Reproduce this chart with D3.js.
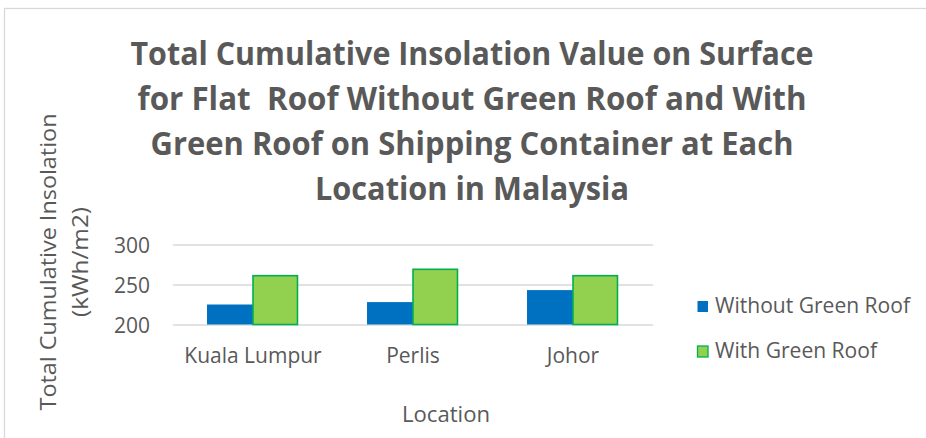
<!DOCTYPE html>
<html>
<head>
<meta charset="utf-8">
<script src="https://cdn.jsdelivr.net/npm/d3@7"></script>
<style>
  body { margin: 0; background: #fff; }
  text { font-family: "Open Sans", "Noto Sans", sans-serif; fill: #595959; }
  .titulo { white-space: pre; }
  .axis path { display: none; }
  .axis line { stroke: #d9d9d9; stroke-width: 1.3; }
</style>
</head>
<body>
<div id="chart"></div>
<script>
// datos
var locations = ["Kuala Lumpur", "Perlis", "Johor"];
var seriesNames = ["Without Green Roof", "With Green Roof"];
var withoutGreen = [225, 228, 243];
var withGreen = [261, 269, 261];
var yTicks = [200, 250, 300];
var titleLines = [
    "Total Cumulative Insolation Value on Surface",
    "for Flat  Roof Without Green Roof and With",
    "Green Roof on Shipping Container at Each",
    "Location in Malaysia"
];
var yTitleLines = ["Total Cumulative Insolation", "(kWh/m2)"];

var W = 926, H = 438;
var plot = { left: 173, right: 653, top: 244.5, bottom: 324.5 };

var svg = d3.select("#chart").append("svg")
    .attr("width", W)
    .attr("height", H);

// borde del grafico
svg.append("rect")
    .attr("x", 4.5).attr("y", 8.5)
    .attr("width", 960).attr("height", 460)
    .attr("fill", "#fff")
    .attr("stroke", "#d9d9d9")
    .attr("stroke-width", 1.3);

// ajusta el ancho del texto al de la referencia
function fit(sel, w) {
    sel.attr("textLength", w).attr("lengthAdjust", "spacingAndGlyphs");
}

var y = d3.scaleLinear().domain([200, 300]).range([plot.bottom, plot.top]);
var x0 = d3.scaleBand().domain(locations).range([plot.left, plot.right]).padding(0);
var x1 = d3.scaleBand().domain(seriesNames).range([0, x0.bandwidth()])
    .paddingInner(0).paddingOuter(0.74);
var color = d3.scaleOrdinal().domain(seriesNames).range(["#0070c0", "#92d050"]);

// grilla + etiquetas eje Y
var yAxis = svg.append("g")
    .attr("class", "axis")
    .attr("transform", "translate(" + plot.left + ",0)")
    .call(d3.axisLeft(y).tickValues(yTicks).tickSize(-(plot.right - plot.left)).tickPadding(23));
yAxis.selectAll("text")
    .style("font-size", "21px")
    .attr("fill", "#595959")
    .attr("dy", "0.36em");

// barras
var rows = locations.map(function (d, i) {
    return { loc: d, vals: [
        { name: seriesNames[0], v: withoutGreen[i] },
        { name: seriesNames[1], v: withGreen[i] }
    ] };
});

var groups = svg.selectAll(".grupo")
    .data(rows)
    .enter().append("g")
    .attr("class", "grupo")
    .attr("transform", function (d) { return "translate(" + x0(d.loc) + ",0)"; });

groups.selectAll("rect")
    .data(function (d) { return d.vals; })
    .enter().append("rect")
    .attr("x", function (d) { return x1(d.name); })
    .attr("y", function (d) { return y(d.v); })
    .attr("width", function (d, i) { return i == 1 ? x1.bandwidth() - 1.5 : x1.bandwidth(); })
    .attr("height", function (d) { return y(200) - y(d.v); })
    .attr("fill", function (d) { return color(d.name); })
    .attr("stroke", function (d, i) { return i == 1 ? "#00b050" : "none"; })
    .attr("stroke-width", 1.6);

// etiquetas de categorias
svg.selectAll(".catLabel")
    .data(locations)
    .enter().append("text")
    .attr("class", "catLabel")
    .attr("x", function (d) { return x0(d) + x0.bandwidth() / 2; })
    .attr("y", plot.bottom + 38.5)
    .attr("text-anchor", "middle")
    .style("font-size", "21px")
    .text(function (d) { return d; });

// titulo
var titleWidths = [683, 669, 643, 314];
svg.selectAll(".titulo")
    .data(titleLines)
    .enter().append("text")
    .attr("class", "titulo")
    .attr("x", 472)
    .attr("y", function (d, i) { return 65 + i * 45; })
    .attr("text-anchor", "middle")
    .style("font-size", "32px")
    .style("font-weight", "bold")
    .text(function (d) { return d; })
    .each(function (d, i) { fit(d3.select(this), titleWidths[i]); });

// titulo eje Y
var yTitleWidths = [297, 110];
svg.selectAll(".yTitle")
    .data(yTitleLines)
    .enter().append("text")
    .attr("class", "yTitle")
    .attr("transform", function (d, i) { return "translate(" + (56 + i * 32) + ",262) rotate(-90)"; })
    .attr("text-anchor", "middle")
    .style("font-size", "21px")
    .text(function (d) { return d; })
    .each(function (d, i) { fit(d3.select(this), yTitleWidths[i]); });

// titulo eje X
svg.append("text")
    .attr("x", 446)
    .attr("y", 422)
    .attr("text-anchor", "middle")
    .style("font-size", "21px")
    .text("Location")
    .call(fit, 88);

// leyenda
var legendWidths = [195, 162];
var legend = svg.selectAll(".leyenda")
    .data(seriesNames)
    .enter().append("g")
    .attr("class", "leyenda")
    .attr("transform", function (d, i) { return "translate(697," + (313 + i * 45) + ")"; });

legend.append("rect")
    .attr("x", 0.5)
    .attr("y", -12)
    .attr("width", 10.5)
    .attr("height", 11)
    .attr("fill", function (d) { return color(d); })
    .attr("stroke", function (d, i) { return i == 1 ? "#00b050" : "none"; })
    .attr("stroke-width", 1.3);

legend.append("text")
    .attr("x", 18)
    .attr("y", 0)
    .style("font-size", "21px")
    .text(function (d) { return d; })
    .each(function (d, i) { fit(d3.select(this), legendWidths[i]); });
</script>
</body>
</html>
